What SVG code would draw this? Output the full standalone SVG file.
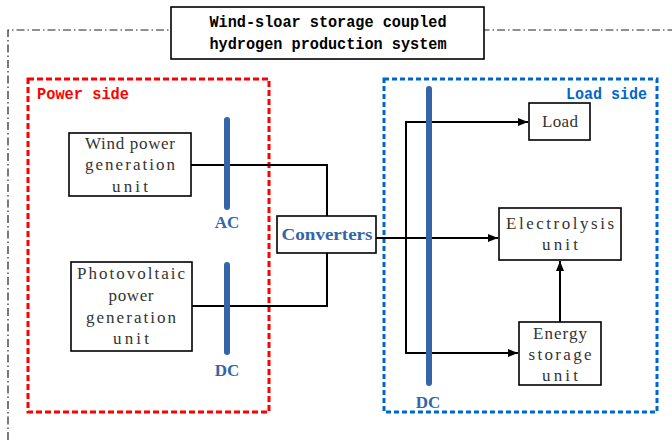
<svg xmlns="http://www.w3.org/2000/svg" width="672" height="440" viewBox="0 0 672 440">
<style>
.box{fill:#fff;stroke:#000;stroke-width:1.6}
.t{font-family:"Liberation Serif",serif;font-size:17px;fill:#333;text-anchor:middle}
.title{font-family:"Liberation Mono",monospace;font-size:16px;font-weight:bold;fill:#000;text-anchor:middle}
.lab{font-family:"Liberation Mono",monospace;font-size:16px;font-weight:bold}
.bus{stroke:#3465A8;stroke-width:6;stroke-linecap:round}
.busl{font-family:"Liberation Serif",serif;font-size:17px;font-weight:bold;fill:#3465A8;text-anchor:middle}
.ln{fill:none;stroke:#000;stroke-width:2}
</style>
<defs>
<marker id="ah" viewBox="0 0 10 10" refX="10" refY="5" markerWidth="10" markerHeight="10" markerUnits="userSpaceOnUse" orient="auto">
<path d="M0,1 L10,5 L0,9 Z" fill="#000"/>
</marker>
</defs>
<rect width="672" height="440" fill="#fff"/>
<path d="M8,440 V30 H672" fill="none" stroke="#222" stroke-width="1.2" stroke-dasharray="8 3 1.5 3"/>
<g id="title">
<rect class="box" x="171" y="7" width="313" height="52"/>
<text class="title" x="328" y="27" textLength="237" lengthAdjust="spacingAndGlyphs">Wind-sloar storage coupled</text>
<text class="title" x="328" y="49" textLength="237" lengthAdjust="spacingAndGlyphs">hydrogen production system</text>
</g>
<g id="power-side">
<rect x="28" y="79" width="241" height="333" fill="none" stroke="#FF0000" stroke-width="3" stroke-dasharray="6 3"/>
<text class="lab" x="37" y="99" fill="#FF0000" textLength="92" lengthAdjust="spacingAndGlyphs">Power side</text>
</g>
<g id="load-side">
<rect x="384" y="79" width="273" height="333" fill="none" stroke="#0066CC" stroke-width="3" stroke-dasharray="5 3"/>
<text class="lab" x="647" y="99" fill="#0066CC" text-anchor="end" textLength="81" lengthAdjust="spacingAndGlyphs">Load side</text>
</g>
<g id="connectors">
<path class="ln" d="M191,165 H327 V216"/>
<path class="ln" d="M192,306 H327 V253"/>
<path class="ln" d="M376,238 H498" marker-end="url(#ah)"/>
<path class="ln" d="M528,122 H406 V353 H518" marker-end="url(#ah)"/>
<path class="ln" d="M406,122 H528" marker-end="url(#ah)"/>
<path class="ln" d="M560,322 V261" marker-end="url(#ah)"/>
</g>
<g id="ac-bus">
<line class="bus" x1="227" y1="120" x2="227" y2="207"/>
<text class="busl" x="227" y="228">AC</text>
</g>
<g id="dc-bus-power">
<line class="bus" x1="227" y1="265" x2="227" y2="352"/>
<text class="busl" x="227" y="376">DC</text>
</g>
<g id="dc-bus-load">
<line class="bus" x1="429" y1="89" x2="429" y2="383"/>
<text class="busl" x="428" y="408">DC</text>
</g>
<g id="wind">
<rect class="box" x="69" y="133" width="122" height="63"/>
<text class="t" x="130" y="149" textLength="90" lengthAdjust="spacing">Wind power</text>
<text class="t" x="130" y="170" textLength="90" lengthAdjust="spacing">generation</text>
<text class="t" x="130" y="192" textLength="36" lengthAdjust="spacing">unit</text>
</g>
<g id="pv">
<rect class="box" x="71" y="262" width="121" height="89"/>
<text class="t" x="131" y="279" textLength="108" lengthAdjust="spacing">Photovoltaic</text>
<text class="t" x="131" y="301" textLength="45" lengthAdjust="spacing">power</text>
<text class="t" x="131" y="323" textLength="90" lengthAdjust="spacing">generation</text>
<text class="t" x="131" y="344" textLength="36" lengthAdjust="spacing">unit</text>
</g>
<g id="converters">
<rect class="box" x="277" y="216" width="99" height="37"/>
<text class="busl" x="327" y="240" textLength="91" lengthAdjust="spacingAndGlyphs">Converters</text>
</g>
<g id="load">
<rect class="box" x="529" y="103" width="61" height="37"/>
<text class="t" x="560" y="127" textLength="36" lengthAdjust="spacing">Load</text>
</g>
<g id="electrolysis">
<rect class="box" x="499" y="208" width="122" height="52"/>
<text class="t" x="560" y="229" textLength="108" lengthAdjust="spacing">Electrolysis</text>
<text class="t" x="560" y="250" textLength="36" lengthAdjust="spacing">unit</text>
</g>
<g id="storage">
<rect class="box" x="519" y="322" width="82" height="63"/>
<text class="t" x="560" y="339" textLength="54" lengthAdjust="spacing">Energy</text>
<text class="t" x="560" y="360" textLength="63" lengthAdjust="spacing">storage</text>
<text class="t" x="560" y="381" textLength="36" lengthAdjust="spacing">unit</text>
</g>
</svg>
